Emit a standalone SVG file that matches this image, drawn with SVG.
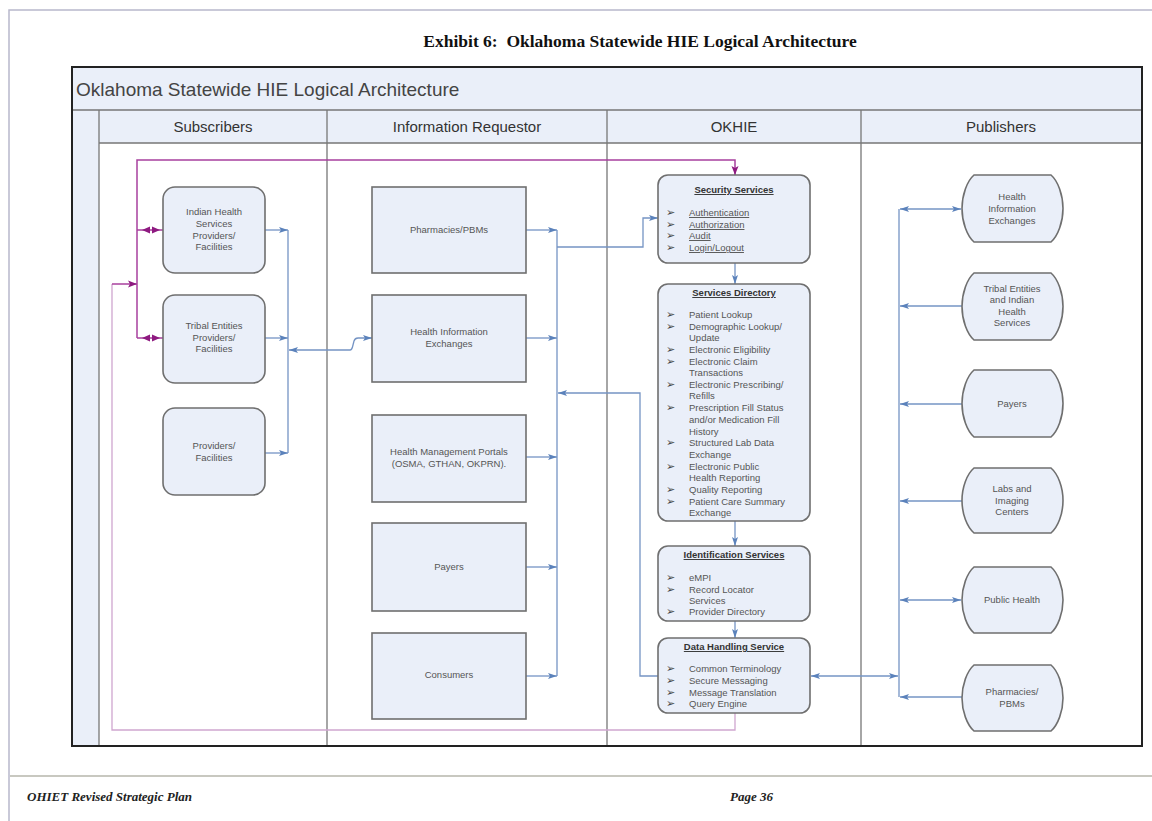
<svg xmlns="http://www.w3.org/2000/svg" width="1152" height="821" viewBox="0 0 1152 821">
<style>
.t{font-family:"Liberation Sans",Arial,sans-serif;font-size:9.5px;fill:#555;text-anchor:middle}
.l{font-family:"Liberation Sans",Arial,sans-serif;font-size:9.5px;fill:#555}
.h{font-family:"Liberation Sans",Arial,sans-serif;font-size:9.5px;fill:#333;font-weight:bold;text-decoration:underline;text-anchor:middle}
.u{text-decoration:underline}
.b{font-family:"DejaVu Sans",sans-serif;font-size:11px;fill:#444}
.col{font-family:"Liberation Sans",Arial,sans-serif;font-size:15px;fill:#333;text-anchor:middle}
.nd{fill:#eaeff9;stroke:#6f6f6f;stroke-width:1.6}
.bl{fill:none;stroke:#7594c4;stroke-width:1.3}
.pp{fill:none;stroke:#a8409e;stroke-width:1.5}
.pl{fill:none;stroke:#cfa6cf;stroke-width:1.3}
</style>
<defs>
<marker id="ab" markerUnits="userSpaceOnUse" markerWidth="10" markerHeight="8" refX="9" refY="4" orient="auto-start-reverse"><path d="M0,1 L9,4 L0,7 L2,4 Z" fill="#5b82bb"/></marker>
<marker id="ap" markerUnits="userSpaceOnUse" markerWidth="10" markerHeight="8" refX="9" refY="4" orient="auto-start-reverse"><path d="M0,0.5 L9,4 L0,7.5 L2,4 Z" fill="#8e1a80"/></marker>
</defs>
<rect x="0" y="0" width="1152" height="821" fill="#fff"/>
<path d="M9,821 V10 H1152" fill="none" stroke="#b8b8cc" stroke-width="1.5"/>
<text x="640" y="47" xml:space="preserve" font-family="'Liberation Serif','Times New Roman',serif" font-size="17.5" font-weight="bold" fill="#111" text-anchor="middle">Exhibit 6:  Oklahoma Statewide HIE Logical Architecture</text>
<g id="frame">
<rect x="72" y="67" width="1070" height="679" fill="#fff"/>
<rect x="72" y="67" width="1070" height="43" fill="#eaeff9"/>
<rect x="72" y="110" width="27" height="636" fill="#eaeff9"/>
<rect x="99" y="110" width="1043" height="33" fill="#eaeff9"/>
<path d="M72,110 H1142 M99,143 H1142" stroke="#777" stroke-width="1.3"/>
<path d="M99,110 V746 M327,110 V746 M607,110 V746 M861,110 V746" stroke="#777" stroke-width="1.3"/>
<rect x="72" y="67" width="1070" height="679" fill="none" stroke="#222" stroke-width="2"/>
<text x="76" y="96" font-family="'Liberation Sans',Arial,sans-serif" font-size="19" fill="#444">Oklahoma Statewide HIE Logical Architecture</text>
<text class="col" x="213" y="132">Subscribers</text>
<text class="col" x="467" y="132">Information Requestor</text>
<text class="col" x="734" y="132">OKHIE</text>
<text class="col" x="1001" y="132">Publishers</text>
</g>
<g id="connectors">
<path class="pl" d="M112,284 V730 H735 V713"/>
<path class="pp" d="M112,284 H137" marker-end="url(#ap)"/>
<path class="pp" d="M137,338 V160 H735 V175" marker-end="url(#ap)"/>
<path class="pp" d="M137,230 H163 M137,338 H163"/>
<path d="M142,230 L150,226.5 L150,233.5 Z M160,230 L152,226.5 L152,233.5 Z M142,338 L150,334.5 L150,341.5 Z M160,338 L152,334.5 L152,341.5 Z" fill="#8e1a80"/>
<path class="bl" d="M265,230 H288" marker-end="url(#ab)"/>
<path class="bl" d="M265,338 H288" marker-end="url(#ab)"/>
<path class="bl" d="M265,453 H288" marker-end="url(#ab)"/>
<path class="bl" d="M288,230 V453"/>
<path class="bl" d="M289,350 H350 Q352,350 353,345 L354,341 Q355,338 358,338 H372" marker-start="url(#ab)" marker-end="url(#ab)"/>
<path class="bl" d="M526,230 H557" marker-end="url(#ab)"/>
<path class="bl" d="M526,338 H557" marker-end="url(#ab)"/>
<path class="bl" d="M526,457 H557" marker-end="url(#ab)"/>
<path class="bl" d="M526,567 H557" marker-end="url(#ab)"/>
<path class="bl" d="M526,676 H557" marker-end="url(#ab)"/>
<path class="bl" d="M557,230 V676"/>
<path class="bl" d="M557,247 H643 V218 H658" marker-end="url(#ab)"/>
<path class="bl" d="M658,676 H640 V393 H558" marker-end="url(#ab)"/>
<path class="bl" d="M735,263 V284" marker-end="url(#ab)"/>
<path class="bl" d="M735,521 V546" marker-end="url(#ab)"/>
<path class="bl" d="M735,621 V638" marker-end="url(#ab)"/>
<path class="bl" d="M811,676 H898" marker-start="url(#ab)" marker-end="url(#ab)"/>
<path class="bl" d="M899,209 V697"/>
<path class="bl" d="M900,209 H961" marker-start="url(#ab)" marker-end="url(#ab)"/>
<path class="bl" d="M962,306 H900" marker-end="url(#ab)"/>
<path class="bl" d="M962,404 H900" marker-end="url(#ab)"/>
<path class="bl" d="M962,501 H900" marker-end="url(#ab)"/>
<path class="bl" d="M900,600 H961" marker-start="url(#ab)" marker-end="url(#ab)"/>
<path class="bl" d="M962,697 H900" marker-end="url(#ab)"/>
</g>
<g id="sub-ihs"><rect class="nd" x="163" y="187" width="102" height="86" rx="12"/>
<text class="t" x="214" y="215">Indian Health</text><text class="t" x="214" y="227">Services</text><text class="t" x="214" y="239">Providers/</text><text class="t" x="214" y="250">Facilities</text></g>
<g id="sub-tribal"><rect class="nd" x="163" y="295" width="102" height="88" rx="12"/>
<text class="t" x="214" y="329">Tribal Entities</text><text class="t" x="214" y="341">Providers/</text><text class="t" x="214" y="352">Facilities</text></g>
<g id="sub-prov"><rect class="nd" x="163" y="408" width="102" height="87" rx="12"/>
<text class="t" x="214" y="449">Providers/</text><text class="t" x="214" y="461">Facilities</text></g>
<g id="ir-pharm"><rect class="nd" x="372" y="187" width="154" height="86"/><text class="t" x="449" y="233">Pharmacies/PBMs</text></g>
<g id="ir-hie"><rect class="nd" x="372" y="295" width="154" height="87"/><text class="t" x="449" y="335">Health Information</text><text class="t" x="449" y="347">Exchanges</text></g>
<g id="ir-hmp"><rect class="nd" x="372" y="415" width="154" height="87"/><text class="t" x="449" y="455">Health Management Portals</text><text class="t" x="449" y="467">(OSMA, GTHAN, OKPRN).</text></g>
<g id="ir-payers"><rect class="nd" x="372" y="523" width="154" height="88"/><text class="t" x="449" y="570">Payers</text></g>
<g id="ir-cons"><rect class="nd" x="372" y="633" width="154" height="86"/><text class="t" x="449" y="678">Consumers</text></g>
<g id="okhie-security"><rect class="nd" x="658" y="175" width="152" height="88" rx="10"/>
<text class="h" x="734" y="193">Security Services</text>
<g class="b"><text x="666" y="216">➢</text><text x="666" y="228">➢</text><text x="666" y="239">➢</text><text x="666" y="251">➢</text></g>
<g class="l"><text class="u" x="689" y="216">Authentication</text><text class="u" x="689" y="228">Authorization</text><text class="u" x="689" y="239">Audit</text><text class="u" x="689" y="251">Login/Logout</text></g></g>
<g id="okhie-directory"><rect class="nd" x="658" y="284" width="152" height="237" rx="10"/>
<text class="h" x="734" y="296">Services Directory</text>
<g class="b"><text x="666" y="318">➢</text><text x="666" y="330">➢</text><text x="666" y="353">➢</text><text x="666" y="365">➢</text><text x="666" y="388">➢</text><text x="666" y="411">➢</text><text x="666" y="446">➢</text><text x="666" y="470">➢</text><text x="666" y="493">➢</text><text x="666" y="505">➢</text></g>
<g class="l"><text x="689" y="318">Patient Lookup</text><text x="689" y="330">Demographic Lookup/</text><text x="689" y="341">Update</text><text x="689" y="353">Electronic Eligibility</text><text x="689" y="365">Electronic Claim</text><text x="689" y="376">Transactions</text><text x="689" y="388">Electronic Prescribing/</text><text x="689" y="399">Refills</text><text x="689" y="411">Prescription Fill Status</text><text x="689" y="423">and/or Medication Fill</text><text x="689" y="435">History</text><text x="689" y="446">Structured Lab Data</text><text x="689" y="458">Exchange</text><text x="689" y="470">Electronic Public</text><text x="689" y="481">Health Reporting</text><text x="689" y="493">Quality Reporting</text><text x="689" y="505">Patient Care Summary</text><text x="689" y="516">Exchange</text></g></g>
<g id="okhie-ident"><rect class="nd" x="658" y="546" width="152" height="75" rx="10"/>
<text class="h" x="734" y="558">Identification Services</text>
<g class="b"><text x="666" y="581">➢</text><text x="666" y="593">➢</text><text x="666" y="615">➢</text></g>
<g class="l"><text x="689" y="581">eMPI</text><text x="689" y="593">Record Locator</text><text x="689" y="604">Services</text><text x="689" y="615">Provider Directory</text></g></g>
<g id="okhie-data"><rect class="nd" x="658" y="638" width="152" height="75" rx="10"/>
<text class="h" x="734" y="650">Data Handling Service</text>
<g class="b"><text x="666" y="672">➢</text><text x="666" y="684">➢</text><text x="666" y="696">➢</text><text x="666" y="707">➢</text></g>
<g class="l"><text x="689" y="672">Common Terminology</text><text x="689" y="684">Secure Messaging</text><text x="689" y="696">Message Translation</text><text x="689" y="707">Query Engine</text></g></g>
<g id="pub-hie"><path class="nd" d="M974,175 H1051 C1058,181 1063,195 1063,208.5 C1063,222 1058,236 1051,242 H974 C967,236 962,222 962,208.5 C962,195 967,181 974,175 Z"/>
<text class="t" x="1012" y="200">Health</text><text class="t" x="1012" y="212">Information</text><text class="t" x="1012" y="224">Exchanges</text></g>
<g id="pub-tribal"><path class="nd" d="M974,273 H1051 C1058,279 1063,293 1063,306.5 C1063,320 1058,334 1051,340 H974 C967,334 962,320 962,306.5 C962,293 967,279 974,273 Z"/>
<text class="t" x="1012" y="292">Tribal Entities</text><text class="t" x="1012" y="303">and Indian</text><text class="t" x="1012" y="315">Health</text><text class="t" x="1012" y="326">Services</text></g>
<g id="pub-payers"><path class="nd" d="M974,370 H1051 C1058,376 1063,390 1063,403.5 C1063,417 1058,431 1051,437 H974 C967,431 962,417 962,403.5 C962,390 967,376 974,370 Z"/>
<text class="t" x="1012" y="407">Payers</text></g>
<g id="pub-labs"><path class="nd" d="M974,468 H1051 C1058,474 1063,487 1063,500.5 C1063,514 1058,527 1051,533 H974 C967,527 962,514 962,500.5 C962,487 967,474 974,468 Z"/>
<text class="t" x="1012" y="492">Labs and</text><text class="t" x="1012" y="504">Imaging</text><text class="t" x="1012" y="515">Centers</text></g>
<g id="pub-ph"><path class="nd" d="M974,567 H1051 C1058,573 1063,587 1063,600 C1063,613 1058,627 1051,633 H974 C967,627 962,613 962,600 C962,587 967,573 974,567 Z"/>
<text class="t" x="1012" y="603">Public Health</text></g>
<g id="pub-pharm"><path class="nd" d="M974,665 H1051 C1058,671 1063,685 1063,698 C1063,711 1058,725 1051,731 H974 C967,725 962,711 962,698 C962,685 967,671 974,665 Z"/>
<text class="t" x="1012" y="695">Pharmacies/</text><text class="t" x="1012" y="707">PBMs</text></g>
<path d="M10,776 H1152" stroke="#c8c8c0" stroke-width="2"/>
<text x="27" y="801" font-family="'Liberation Serif','Times New Roman',serif" font-size="13" font-style="italic" font-weight="bold" fill="#222">OHIET Revised Strategic Plan</text>
<text x="730" y="801" font-family="'Liberation Serif','Times New Roman',serif" font-size="13" font-style="italic" font-weight="bold" fill="#222">Page 36</text>
</svg>
